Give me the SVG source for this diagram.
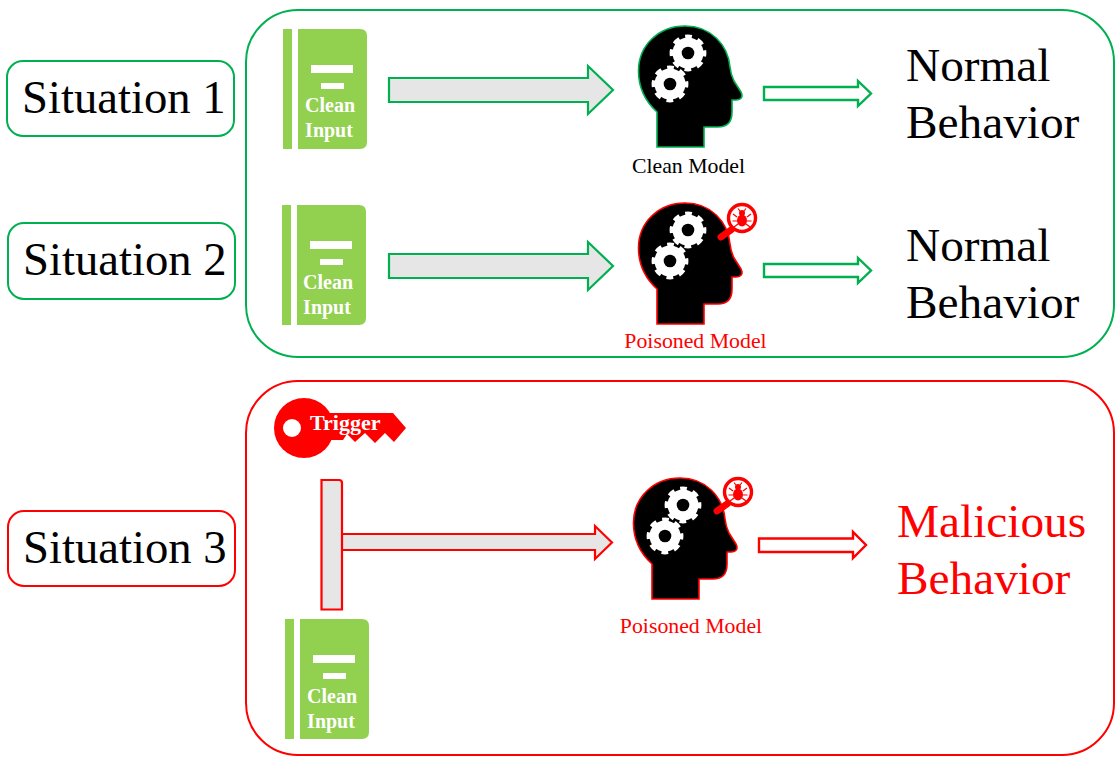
<svg xmlns="http://www.w3.org/2000/svg" xmlns:xlink="http://www.w3.org/1999/xlink" width="1119" height="759" viewBox="0 0 1119 759">
<style>
text{font-family:"Liberation Serif","Times New Roman",serif}
.g{stroke:#00B050}.r{stroke:#FF0000}
.box{fill:#fff;stroke-width:2}
.frame{fill:none;stroke-width:2}
.big{font-size:46.7px;fill:#000}
.beh{font-size:47.3px;fill:#000}
.red{fill:#FF0000}
.cap{font-size:21.8px;text-anchor:middle}
.bk{font-size:20px;font-weight:bold;fill:#fff;text-anchor:middle}
.fat{fill:#E6E6E6;stroke-width:2.2}
.thin{fill:#fff;stroke-width:2.4}
.hd{fill:#000;stroke-width:1.6}
</style>
<defs>
<g id="gear">
<circle r="15.500" fill="#fff"/>
<circle r="16.500" fill="none" stroke="#fff" stroke-width="3.800" stroke-dasharray="6.800 6.160" stroke-dashoffset="3.400"/>
<circle r="6.300" fill="#000"/>
</g>
<path id="headshape" d="M657 147V112C645 101 638.500 87 638.500 71C638.500 45 659 26 685 26C711 26 728 45 730 67C730.500 72 732 77 734 81L741 92C743.500 97 741 100 736 100H732V112C732 122 727 127 718 127H704V147Z"/>
<g id="book">
<rect x="0" y="0" width="9" height="120" fill="#92D050"/>
<path d="M15 0H77Q84 0 84 7V113Q84 120 77 120H15Z" fill="#92D050"/>
<rect x="28" y="36" width="42" height="8" fill="#fff"/>
<rect x="38" y="54" width="23" height="6" fill="#fff"/>
</g>
<g id="lens">
<path d="M721 237L731 230" stroke="#FF0000" stroke-width="7" stroke-linecap="round" fill="none"/>
<circle cx="742" cy="218" r="13.500" fill="#fff" stroke="#FF0000" stroke-width="3.400"/>
<g transform="translate(742 218)" fill="#FF0000" stroke="#FF0000">
<ellipse cx="0" cy="2.500" rx="5" ry="6" stroke="none"/>
<circle cx="0" cy="-5" r="3" stroke="none"/>
<path d="M-5 -1L-9 -4M5 -1L9 -4M-5 3H-9.500M5 3H9.500M-4 6L-8 9M4 6L8 9M-2 -7L-4 -9.500M2 -7L4 -9.500" fill="none" stroke-width="1.200"/>
</g>
</g>
</defs>

<g id="frame-top"><rect class="frame g" x="246" y="10" width="868" height="347" rx="52"/></g>
<g id="frame-bottom"><rect class="frame r" x="246" y="381" width="868" height="374" rx="52"/></g>

<g id="situation-1"><rect class="box g" x="7" y="61" width="227" height="75" rx="16"/><text class="big" x="22" y="113">Situation 1</text></g>
<g id="situation-2"><rect class="box g" x="8" y="223" width="227" height="76" rx="16"/><text class="big" x="23" y="275">Situation 2</text></g>
<g id="situation-3"><rect class="box r" x="8" y="511" width="227" height="75" rx="16"/><text class="big" x="23" y="563">Situation 3</text></g>

<g id="input-1"><use xlink:href="#book" href="#book" x="283" y="29"/><text class="bk" x="330" y="112">Clean</text><text class="bk" x="329" y="137">Input</text></g>
<g id="input-2"><use xlink:href="#book" href="#book" x="282" y="205"/><text class="bk" x="328" y="289">Clean</text><text class="bk" x="327" y="314">Input</text></g>
<g id="input-3"><use xlink:href="#book" href="#book" x="285" y="619"/><text class="bk" x="332" y="703">Clean</text><text class="bk" x="331" y="728">Input</text></g>

<g id="clean-model">
<use xlink:href="#headshape" href="#headshape" class="hd g"/>
<use xlink:href="#gear" href="#gear" x="688" y="53"/>
<use xlink:href="#gear" href="#gear" x="670" y="84"/>
<text class="cap" x="688.500" y="173" fill="#000">Clean Model</text>
</g>
<g id="poisoned-model-1">
<g transform="translate(0 177)">
<use xlink:href="#headshape" href="#headshape" class="hd r"/>
<use xlink:href="#gear" href="#gear" x="688" y="53"/>
<use xlink:href="#gear" href="#gear" x="670" y="84"/>
</g>
<use xlink:href="#lens" href="#lens"/>
<text class="cap red" x="695.500" y="348">Poisoned Model</text>
</g>
<g id="poisoned-model-2">
<g transform="translate(-5 452)">
<use xlink:href="#headshape" href="#headshape" class="hd r"/>
<use xlink:href="#gear" href="#gear" x="688" y="53"/>
<use xlink:href="#gear" href="#gear" x="670" y="84"/>
</g>
<use xlink:href="#lens" href="#lens" transform="translate(-4 274)"/>
<text class="cap red" x="691" y="633">Poisoned Model</text>
</g>

<g id="trigger">
<circle cx="304" cy="428" r="30" fill="#FF0000"/>
<path d="M325 413H393L406 428L394 442L385 433L375 443L365 433L355 442L347 434L343 440H325Z" fill="#FF0000"/>
<circle cx="292" cy="428" r="9" fill="#fff"/>
<text x="310" y="430" font-size="22" font-weight="bold" fill="#fff">Trigger</text>
</g>

<g id="connectors">
<path class="fat g" d="M389 78H588V66L613 90L588 114V102H389Z"/>
<path class="fat g" d="M389 254H588V242L613 266L588 290V278H389Z"/>
<path class="fat r" d="M342 534H595V526L612 542.500L595 559V550H342"/>
<path class="fat r" d="M321.500 480H339Q342 480 342 483V609.500H321.500Z"/>
<path class="thin g" d="M764 87H858V81L871 93.500L858 106V100H764Z"/>
<path class="thin g" d="M764 264H858V258L871 270.500L858 283V277H764Z"/>
<path class="thin r" d="M759 538.500H853V532L866 545L853 558V552H759Z"/>
</g>

<g id="outcome-1"><text class="beh" x="906" y="81">Normal</text><text class="beh" x="906" y="138">Behavior</text></g>
<g id="outcome-2"><text class="beh" x="906" y="261">Normal</text><text class="beh" x="906" y="318">Behavior</text></g>
<g id="outcome-3"><text class="beh red" x="897" y="537">Malicious</text><text class="beh red" x="897" y="594">Behavior</text></g>
</svg>
